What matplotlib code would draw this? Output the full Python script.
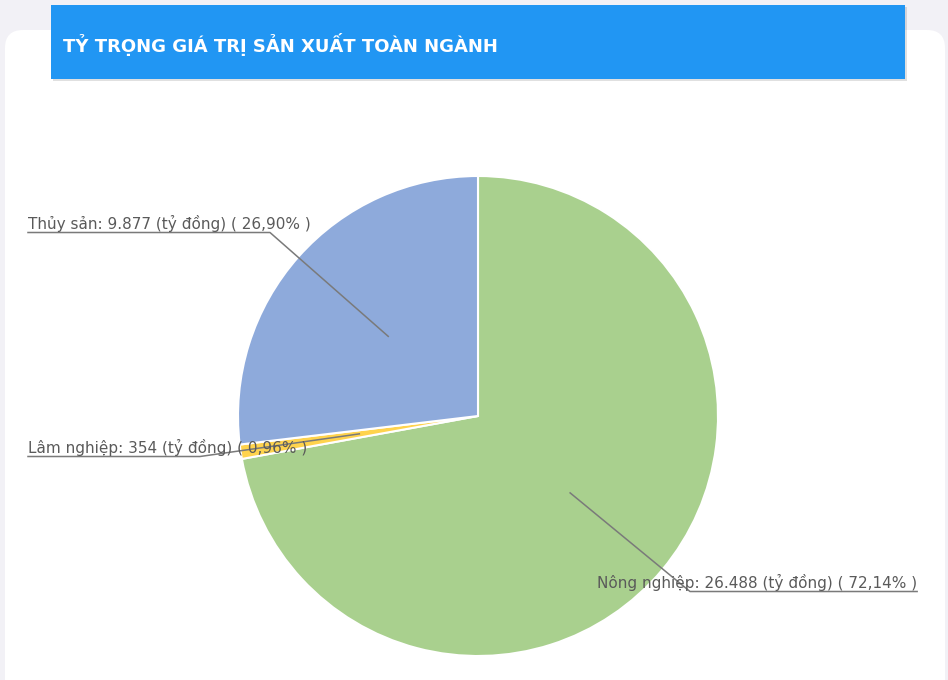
import numpy as np
import matplotlib
matplotlib.use("Agg")
import matplotlib.pyplot as plt
from matplotlib.patches import Rectangle, FancyBboxPatch

title = "TỶ TRỌNG GIÁ TRỊ SẢN XUẤT TOÀN NGÀNH"
sectors = ["Nông nghiệp", "Lâm nghiệp", "Thủy sản"]
values = [26488, 354, 9877]
colors = ["#a9d08e", "#ffd34d", "#8eaadb"]

# label layout in pixels (x of text, y of text centre, x of line knee)
label_x = [597, 28, 28]
label_y = [582, 447, 223]
knee_x = [690, 200, 270]

W, H = 948, 680
cx, cy, r = 478, 416, 240


def fmt_int(v):
    return "{:,}".format(v).replace(",", ".")


def main():
    fig = plt.figure(figsize=(W / 100, H / 100), dpi=100)
    fig.patch.set_facecolor("#f2f1f6")
    ax = fig.add_axes([0, 0, 1, 1])

    # white card
    ax.add_patch(FancyBboxPatch((5, -40), 940, 690,
                                boxstyle="round,pad=0,rounding_size=18",
                                fc="white", ec="none", zorder=0))

    total = sum(values)
    wedges, _ = ax.pie(values, colors=colors, startangle=90, counterclock=False,
                       center=(cx, H - cy), radius=r,
                       wedgeprops=dict(edgecolor="white", linewidth=1.5))

    ax.set_xlim(0, W)
    ax.set_ylim(0, H)
    ax.set_aspect("equal")
    ax.axis("off")
    fig.canvas.draw()
    inv = ax.transData.inverted()

    for i, w in enumerate(wedges):
        mid = np.deg2rad((w.theta1 + w.theta2) / 2)
        px = cx + 0.5 * r * np.cos(mid)
        py = (H - cy) + 0.5 * r * np.sin(mid)
        pct = values[i] / total * 100
        txt = "%s: %s (tỷ đồng) ( %s%% )" % (sectors[i], fmt_int(values[i]),
                                             ("%.2f" % pct).replace(".", ","))
        t = ax.text(label_x[i], H - label_y[i], txt, fontsize=11, color="#5a5a5a",
                    ha="left", va="center", zorder=5)
        bb = t.get_window_extent(renderer=fig.canvas.get_renderer()).transformed(inv)
        uy = bb.y0 - 1
        if px > label_x[i]:
            xs = [label_x[i], knee_x[i], px]
        else:
            xs = [bb.x1, knee_x[i], px]
        ys = [uy, uy, py]
        ax.plot(xs, ys, color="#7a7a7a", lw=1.1, zorder=4)

    # title bar with shadow
    ax.add_patch(Rectangle((53, H - 81), 854, 74, fc="#000000", alpha=0.12,
                           ec="none", zorder=6))
    ax.add_patch(Rectangle((51, H - 79), 854, 74, fc="#2196f3", ec="none", zorder=7))
    ax.text(63, H - 45, title, color="white", fontsize=13, fontweight="bold",
            ha="left", va="center", zorder=8)

    fig.savefig("out.png", dpi=100, facecolor=fig.get_facecolor())


if __name__ == "__main__":
    main()
